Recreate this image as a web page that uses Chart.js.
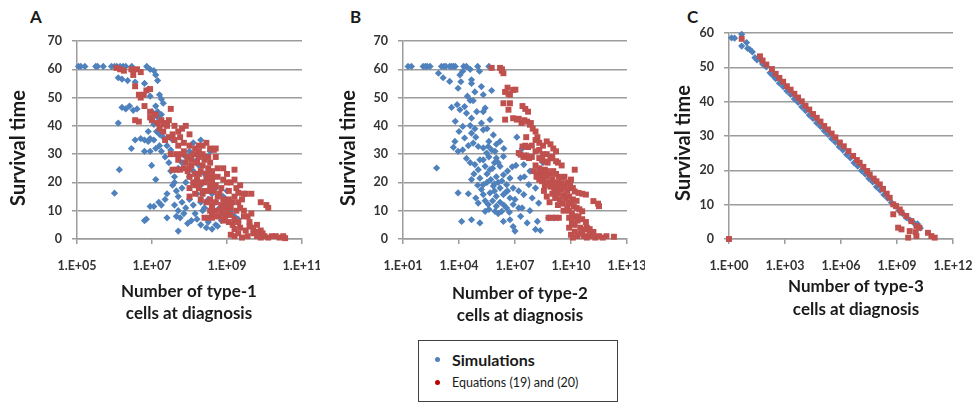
<!DOCTYPE html>
<html>
<head>
<meta charset="utf-8">
<script src="https://cdn.jsdelivr.net/npm/chart.js@4.4.1/dist/chart.umd.min.js"></script>
<style>
  body { margin: 0; background: #fff; width: 978px; height: 403px; position: relative; overflow: hidden; font-family: Lato, sans-serif; }
  canvas { position: absolute; top: 0; }
  .tag { position: absolute; font: bold 17px Lato, sans-serif; color: #1a1a1a; line-height: 1; }
  #legend { position: absolute; left: 418px; top: 340px; width: 198px; height: 60px; border: 1px solid #404040; }
  #legend .row { position: absolute; left: 0; display: flex; align-items: center; }
  #legend .dot { width: 5px; height: 5px; border-radius: 50%; margin: 0 12px 0 16px; }
</style>
</head>
<body>
<div class="tag" style="left:30px;top:8px">A</div>
<div class="tag" style="left:350px;top:8px">B</div>
<div class="tag" style="left:687px;top:8px">C</div>

<canvas id="chartA" width="320" height="330" style="left:0px"></canvas>
<canvas id="chartB" width="316" height="330" style="left:329px"></canvas>
<canvas id="chartC" width="313" height="330" style="left:665px"></canvas>

<div id="legend">
  <div class="row" style="top:9px"><span class="dot" style="background:#4f81bd"></span><b style="font-size:16px;color:#1a1a1a">Simulations</b></div>
  <div class="row" style="top:34px"><span class="dot" style="background:#c00000"></span><span style="font-size:12.5px;color:#1a1a1a">Equations (19) and (20)</span></div>
</div>

<script>
'use strict';

/* =========== data: [log10(cells), survival time] ================= */
// panel A - type-1 cells
var simA = [
  [5.04,61],[5.1,61],[5.21,61],[5.5,61],[5.55,61],[5.7,61],[5.92,61],[6.0,61],[6.06,61],[6.15,61],[6.23,61],[6.3,61],[6.46,61],[6.86,61],
  [6.95,60],[7.05,59.5],[7.1,58],[6.1,57],[6.2,56.5],[6.35,56],[6.55,55.5],[6.8,55],[6.9,53],[7.15,56],[6.95,50.5],[7.2,51],[7.25,49.5],
  [6.2,46.5],[6.3,46],[6.4,47],[6.5,45.5],[6.6,46],[7.1,47],[7.15,45],[7.25,44],[7.3,48],[7.0,42],[7.05,40.5],[7.12,38],[7.2,37],[6.1,41],
  [7.0,45],[7.15,43],[7.3,36],[7.2,33],[6.9,38],[7.05,35],
  [6.55,35],[6.7,35.5],[6.8,35],[6.9,34.5],[6.95,35.5],[6.45,32],[6.8,31],[6.95,31],[7.1,32],[7.25,31],[7.4,33],[7.55,35],[7.5,31.5],
  [7.35,29],[7.45,27],[6.99,26],[6.13,24.5],[7.1,21],[6.0,16.2],[6.95,11.5],[7.05,11.5],[6.8,6.5],[6.85,7],[7.18,13],[7.4,7.5],
  [7.5,24],[7.6,22],[7.7,25],[7.8,27],[7.9,29],[8.0,31],[8.1,30],[8.2,28],[7.55,19],[7.65,17],[7.7,15],[7.8,18],[7.9,20],[8.0,22],
  [8.1,24],[8.2,21],[8.3,19],[8.4,23],[8.5,22],[8.6,20],[8.7,18],[7.6,12],[7.7,10],[7.8,13],[7.9,11],[8.0,14],[8.1,12],[8.2,16],
  [8.3,13],[8.4,11],[8.5,14],[8.6,16],[8.7,13],[8.8,11],[7.75,7.5],[7.85,9],[7.95,5.5],[7.7,2.8],[8.05,6.5],[8.2,7],[8.3,5],[8.45,4],
  [8.5,6],[8.6,3.5],[8.7,5],[8.75,4.5],[8.85,6.5],[9.0,17],[9.05,12.5],[9.3,7],[8.1,34],[8.3,35],[8.55,31],[8.25,26],[8.45,29],
  [7.4,16],[7.6,20],[8.9,15],[9.1,10],[9.3,6],[7.35,14],[7.25,12],[7.65,8],[8.15,9],[8.35,10],[8.6,8],[8.9,9],[9.2,8]
];
var eqA = [
  [6.05,60.5],[6.15,60],[6.25,59.5],[6.45,60],[6.6,60],[6.7,59],[6.5,58],[6.55,54],[6.65,51],[6.7,50],[6.78,51],[6.85,52.5],[6.95,53],
  [6.8,47],[6.95,45],[6.55,42],[6.65,41.5],[6.95,43],[7.0,42],[7.15,41],[7.25,42],[7.35,41],[7.45,42],[7.5,46],[7.4,40],[7.3,40.5],
  [7.2,39],[7.45,36],[7.55,37],[7.7,33],[7.75,36],[7.8,39],[7.9,40],[8.0,37],[8.15,32],[8.25,33],[8.35,33],[8.45,34],[8.55,32],
  [8.65,31.5],[8.7,32],[7.5,30],[7.65,30],[7.8,30],[7.95,29],[8.1,30],[8.25,31],[8.4,28],[8.55,27],
  [7.55,24.5],[7.65,24.5],[7.75,24.5],[7.85,25],[7.95,24],[8.05,26],[8.15,23],[8.3,24],[8.45,23],[8.6,24],[8.75,22],[8.9,21],
  [8.0,18],[8.15,19],[8.25,18],[8.4,20],[8.55,19],[8.7,19],[8.85,18],[9.0,20],[9.1,20],[9.05,17],[9.2,21],[9.35,19],
  [8.3,14],[8.45,13],[8.6,12],[8.75,15],[8.9,14],[9.05,14],[9.2,15],[9.3,13],[9.45,16],[9.65,16],[9.2,24.5],[9.3,16.3],[9.5,16],
  [8.4,7.5],[8.5,7.5],[8.6,7.5],[8.8,8],[8.95,8],[9.1,8.5],[9.2,7],[9.3,6],[9.45,8],[9.55,8],[9.6,4.4],[9.7,4],[9.8,5],[9.9,3],
  [9.9,13],[10.05,12],[10.1,11],[9.65,9],
  [9.1,1.5],[9.2,1],[9.3,2],[9.4,0.5],[9.55,1],[9.7,2],[9.8,1],[9.9,0.5],[10.0,1],[10.1,0.5],[10.2,1],[10.3,1],[10.4,0.5],[10.5,1],
  [10.55,0.3],[9.75,2.5],[9.85,1.5],[9.95,2],
  [8.0,22],[8.2,21],[8.35,16],[8.5,17],[8.65,17],[8.8,16],[8.95,11],[9.1,11],[9.25,10],[8.7,10],[8.85,12],[9.0,9],[8.55,10],
  [7.9,27],[8.05,28],[8.2,27],[8.35,26],[8.5,25],[8.3,20],[8.15,16],[8.0,15],
  [7.6,35],[7.85,34],[8.0,33],[7.7,28],[7.85,31],[8.35,30],[8.5,29],[8.7,29],[8.6,22],[8.75,25],[8.9,25],[9.0,23],[8.45,21],[8.1,20],
  [8.25,23],[8.4,17],[8.55,14],[8.7,13],[8.85,10],[9.0,12.5],[9.15,13],[9.35,11],[9.45,10],[9.25,18],[9.4,14],[8.6,9],[8.75,8],
  [9.05,6],[9.15,5],[9.35,4],[9.5,3],[9.6,6],[9.2,3.5],[8.9,6.5],[7.7,38],[7.6,40],[7.1,44],[7.3,38],[7.35,35],[8.0,25],[8.25,29],
  [8.6,20.5]
];

// panel B - type-2 cells
var simB = [
  [1.27,61],[1.45,61],[2.08,61],[2.2,61],[2.3,61],[2.45,61],[3.06,61],[3.2,61],[3.3,61],[3.5,61],[3.6,61],[3.7,61],[3.8,61],[4.25,61],
  [4.4,61],[5.0,61],[5.6,61],
  [4.2,59.3],[4.6,60],[2.9,58.6],[3.15,57],[3.5,55.7],[4.05,58],[4.1,55.6],[4.67,56.3],[4.67,55],[5.1,59.3],[3.95,53.3],[4.85,52],
  [5.2,53.9],[5.75,52.5],[5.3,51],[4.6,49],[4.76,48.9],[3.6,46.5],[4.05,45.7],[4.3,46.8],[5.4,46.3],[5.3,45],[4.4,44.5],[4.67,42.7],
  [3.8,41.6],[5.66,42.2],[4.2,39.8],[4.6,40.1],[4.85,39],[5.3,38.6],[4.67,37.4],[4.3,35.7],[5.84,36.8],[3.78,34.5],[6.2,34.5],
  [4.76,33.9],[3.7,32.4],[4.2,31.5],[3.95,31],[5.03,32.7],[5.3,32.2],[5.57,32.7],[5.75,31.5],[5.93,31],[5.48,30.4],[6.38,29.2],
  [6.0,28.6],[5.12,28],[4.85,26.3],[5.4,25.7],[2.8,25.1],[5.03,24.5],[5.66,24.5],[6.2,25.7],[4.67,21],[5.12,21.5],[6.0,22],[6.38,22.7],
  [6.73,21.5],[5.3,19.2],[5.84,18.7],[6.2,18],[6.55,19.2],[6.9,18],[3.95,16.3],[5.3,15.7],[5.66,16.3],[6.0,15.1],[6.38,15.7],
  [6.73,14.5],[5.03,12.7],[5.57,12.2],[6.0,11.6],[6.55,11],[6.9,12.2],[5.4,9.8],[5.93,9.8],[6.29,9.8],[4.67,6.8],[4.14,6.2],
  [5.12,5.7],[6.38,6.2],[6.73,6.8],[6.9,4.4],
  [7.38,31.9],[7.1,36],[7.47,26.3],[7.8,24],[7.29,21.6],[7.74,19.2],[8.1,18],[7.47,15.7],[7.92,14.5],[8.27,12.7],[7.2,11],[8.8,7.5],
  [9.08,7.5],[7.65,5.7],[8.2,6.2],[8.1,3.4],[8.36,3],[7.0,2.8],[7.38,11],[8.45,21.5],[8.5,27],
  [5.5,20],[5.9,17],[6.1,20],[6.5,16.5],[5.8,13.5],[6.2,13],[5.2,17.5],[4.9,14.5],[4.5,16],[6.6,24],[5.9,27],[4.4,28.5],[3.9,47.5],
  [4.45,50.5],[5.6,34.5],[4.95,45],[7.05,26],[7.6,29.5],
  [5.3,28],[5.6,29],[5.8,25],[6.1,27],[5.5,23],[5.7,21],[6.3,20.5],[6.6,17],[5.9,19.5],[5.4,13.5],[6.4,12],[6.1,9],[6.7,9.5],[7.0,14],
  [7.2,17],[7.5,22],[6.85,25.5],[6.4,32],[6.0,33.5],[4.9,36],[5.2,41],[5.5,39],[4.5,33],[4.0,38],[4.6,27],[5.0,19],[4.8,23],[5.6,10.5],
  [7.3,8],[7.8,10]
];
var eqB = [
  [5.75,60.5],[6.2,60.5],[6.29,59.5],[6.38,58.6],[6.3,60],
  [6.47,52],[6.65,51.3],[6.73,51],[6.9,52.7],[7.02,52.8],[6.6,53.5],[6.38,48],[6.73,48],[6.65,45.7],[6.9,42.7],[7.1,42.2],[6.47,42.2],
  [7.4,47],[7.55,46],[7.7,45],[7.2,42.5],[7.35,41],[7.5,42],[7.65,41.5],[7.85,41],[7.8,40.4],[7.95,39],[8.1,38],[8.2,36],
  [7.2,30.4],[7.4,32.7],[7.55,33],[7.7,32.5],[8.1,35],[8.3,34],[8.5,33],[8.7,34.5],[8.9,33.5],[9.05,32],[9.2,31],
  [7.3,29.8],[7.45,29],[7.6,29.5],[7.75,28.6],[7.9,29],[8.3,28.6],[8.45,28],[8.6,27.4],[8.75,27],
  [8.3,25],[8.45,24],[8.6,24.5],[8.75,24],[8.9,23],[9.05,24],[9.2,23],[9.35,22],[9.5,21.6],[9.65,22],[10.2,24.5],
  [8.45,20.4],[8.6,19],[8.75,20],[8.9,18.5],[9.05,19.5],[9.2,18],[9.35,19],[9.5,17.5],[9.65,18.5],[9.8,17],[9.95,19],[10.1,18],
  [10.2,16.8],[10.4,16.3],[10.6,16],[10.8,15.7],[11.2,13.4],[11.5,11.6],[11.45,12.5],
  [8.8,7.5],[9.0,7.5],[9.2,7.5],[9.35,7.5],[9.7,14.5],[9.85,13],[10.0,12.5],[10.15,11.5],[10.3,11],[10.45,10.5],[10.6,9.8],[9.4,14],
  [9.55,12.5],[9.9,10],[10.05,9],[10.2,8],[9.9,7.5],[10.05,6],[10.2,5],[10.35,6.5],[10.5,4],[10.7,3.4],[10.85,4],[11.0,3.5],
  [10.0,1.5],[10.1,0.5],[10.2,2.6],[10.35,1],[10.5,2],[10.7,1],[10.85,0.5],[11.0,1.5],[11.15,1],[11.3,0.5],[11.5,1],[11.7,0.5],
  [11.9,1],[12.3,0.8],
  [8.0,24],[8.15,22],[8.3,21],[9.5,26],[9.3,27],[8.9,28.5],[9.0,16],[9.15,14.5],[9.3,12],[9.6,10],[8.7,15],[8.85,13],[8.55,17],
  [7.6,36],[7.9,33],[8.1,31],[8.3,31.5],[8.5,30],[8.7,30],[9.0,29],[9.2,27.5],[8.1,26],[8.2,23],[8.4,22],[8.7,22],[9.0,21],[9.3,20],
  [9.5,19.5],[9.8,20],[10.0,21],[9.1,17],[9.3,16],[9.6,15.5],[9.9,15],[10.1,14],[10.3,13.5],[9.8,11],[10.4,8],[10.6,7],[10.8,6],
  [9.9,4],[10.6,2],[11.2,2.5]
];

// panel C - type-3 cells
var simC = [
  [0.14,58.6],[0.3,58.5],[0.68,59.6],[0.68,56.2],[0.94,57.2],[1.0,55.5],[1.12,55.2],[1.25,54.5],[1.39,52.8],[1.5,52.2],[1.66,52.3],
  [1.8,51],[2.0,50.1],[2.2,48.4],[2.35,47.6],[2.5,46.7],[2.7,45.4],[2.9,44.4],[3.1,43.1],[3.3,42.1],[3.5,40.8],[3.7,39.8],[3.9,38.5],
  [4.1,37.4],[4.3,36.1],[4.5,35.1],[4.7,33.8],[4.9,32.8],[5.1,31.5],[5.3,30.5],[5.5,29.2],[5.7,28.2],[5.9,26.9],[6.1,25.9],[6.3,24.6],
  [6.5,23.6],[6.7,22.2],[6.9,21.2],[7.1,19.9],[7.3,18.9],[7.5,17.6],[7.7,16.6],[7.9,15.2],[8.1,14.2],[8.3,12.9],[8.5,11.9],[8.7,10.6],
  [8.9,9.6],[9.1,8.3],[9.3,7.4],[9.5,6.2],[9.7,5.5],[9.9,4.7],[10.1,4.4],[10.25,3.2]
];
var eqC = [
  [0.0,0],[0.68,58.3],[1.66,53.2],[1.8,52],[2.0,50.8],[2.3,49.5],[2.5,48.1],[2.7,46.9],[2.9,45.8],[3.1,44.5],[3.3,43.5],[3.5,42.3],
  [3.7,41.2],[3.9,40.1],[4.1,38.8],[4.3,37.7],[4.5,36.4],[4.7,35.3],[4.9,34.2],[5.1,32.9],[5.3,31.9],[5.5,30.7],[5.7,29.6],[5.94,28.1],
  [6.15,27],[6.4,25.6],[6.65,24.2],[6.85,23],[7.0,22.2],[7.2,21],[7.4,19.8],[7.54,18.8],[7.75,17.6],[7.9,16.8],[8.08,15.9],[8.25,14.6],
  [8.45,13.2],[8.61,12],[8.8,10.1],[8.95,9.6],[9.15,8.6],[8.8,7.2],[9.24,7.7],[9.5,6.7],[9.77,5.2],[10.04,3.8],[10.2,3.3],[9.06,3.3],
  [9.24,2.8],[9.68,2.3],[9.6,0.4],[10.04,0.85],[10.66,1.8],[10.84,0.85],[11.02,0.4],[10.0,2.0]
];

// axis ticks (values on the log axes)
var xTicksA = [1e5, 1e7, 1e9, 1e11];
var xTicksB = [1e1, 1e4, 1e7, 1e10, 1e13];
var xTicksC = [1e0, 1e3, 1e6, 1e9, 1e12];
var yTitle = 'Survival time';
var xTitleA = ['Number of type-1', 'cells at diagnosis'];
var xTitleB = ['Number of type-2', 'cells at diagnosis'];
var xTitleC = ['Number of type-3', 'cells at diagnosis'];
/* ------------------------------------------------ */

var BLUE = '#4f81bd', RED = '#c0504d', GRID = '#9c9c9c', TXT = '#333333';

function toPoints(list) {
	return list.map(function (p) { return { x: Math.pow(10, p[0]), y: p[1] }; });
}

function expLabel(v) {
	var e = Math.round(Math.log10(v));
	return '1.E+' + (e < 10 ? '0' + e : e);
}

// axis titles drawn at fixed spots, like the original figure
var axisTitles = {
	id: 'axisTitles',
	afterDraw: function (chart, args, o) {
		var ctx = chart.ctx;
		ctx.save();
		ctx.fillStyle = '#1a1a1a';
		ctx.textAlign = 'center';
		ctx.textBaseline = 'middle';
		ctx.font = 'bold 20px Lato, sans-serif';
		ctx.translate(o.yx, o.yy);
		ctx.rotate(-Math.PI / 2);
		ctx.fillText(yTitle, 0, 0);
		ctx.restore();
		ctx.save();
		ctx.fillStyle = '#1a1a1a';
		ctx.textAlign = 'center';
		ctx.textBaseline = 'middle';
		ctx.font = 'bold 17px Lato, sans-serif';
		o.lines.forEach(function (t, i) { ctx.fillText(t, o.xx, o.xy + i * o.gap); });
		ctx.restore();
	}
};

function makePanel(id, sim, eq, xTicks, xMin, xMax, yMax, box, titles) {
	return new Chart(document.getElementById(id), {
		type: 'scatter',
		data: {
			datasets: [{
				label: 'Simulations',
				data: toPoints(sim),
				pointStyle: 'rectRot',
				pointRadius: 3.6,
				backgroundColor: BLUE,
				borderColor: BLUE,
				borderWidth: 0,
				order: 2,
				clip: false
			}, {
				label: 'Equations (19) and (20)',
				data: toPoints(eq),
				pointStyle: 'rect',
				pointRadius: 4.2,
				backgroundColor: RED,
				borderColor: RED,
				borderWidth: 0,
				order: 1,
				clip: false
			}]
		},
		options: {
			responsive: false,
			animation: false,
			layout: { padding: { top: box.top, right: box.right, bottom: 0, left: 0 } },
			plugins: {
				legend: { display: false },
				tooltip: { enabled: false },
				axisTitles: titles
			},
			scales: {
				x: {
					type: 'logarithmic',
					min: xMin,
					max: xMax,
					afterBuildTicks: function (scale) {
						scale.ticks = xTicks.map(function (v) { return { value: v }; });
					},
					afterFit: function (scale) {
						scale.height = box.xh;
						scale.paddingLeft = 0;
						scale.paddingRight = 0;
					},
					grid: { display: true, drawOnChartArea: false, drawTicks: true, tickLength: 5, color: GRID, lineWidth: 1.5 },
					border: { display: true, color: GRID, width: 1.5 },
					ticks: {
						autoSkip: false, maxRotation: 0, padding: 14, color: TXT,
						font: { family: 'Lato, sans-serif', size: 12.5, weight: 'bold' },
						callback: function (v) { return expLabel(v); }
					}
				},
				y: {
					min: 0,
					max: yMax,
					afterFit: function (scale) {
						scale.width = box.yw;
						scale.paddingTop = 0;
						scale.paddingBottom = 0;
					},
					grid: { color: GRID, lineWidth: 1.5, tickLength: 5 },
					border: { display: true, color: GRID, width: 1.5 },
					ticks: {
						stepSize: 10, padding: 10, color: TXT,
						font: { family: 'Lato, sans-serif', size: 12.5, weight: 'bold' }
					}
				}
			}
		},
		plugins: [axisTitles]
	});
}

makePanel('chartA', simA, eqA, xTicksA, 1e5, 1e11, 70,
	{ top: 41, right: 18, xh: 91, yw: 77 },
	{ yx: 19, yy: 148, xx: 189, xy: 292, gap: 21.5, lines: xTitleA });

makePanel('chartB', simB, eqB, xTicksB, 1e1, 1e13, 70,
	{ top: 41, right: 18, xh: 91, yw: 74 },
	{ yx: 20, yy: 148, xx: 191, xy: 294, gap: 22, lines: xTitleB });

makePanel('chartC', simC, eqC, xTicksC, 1e0, 1e12, 60,
	{ top: 33, right: 25, xh: 91, yw: 64 },
	{ yx: 19, yy: 143, xx: 191, xy: 287, gap: 23, lines: xTitleC });
</script>
</body>
</html>
